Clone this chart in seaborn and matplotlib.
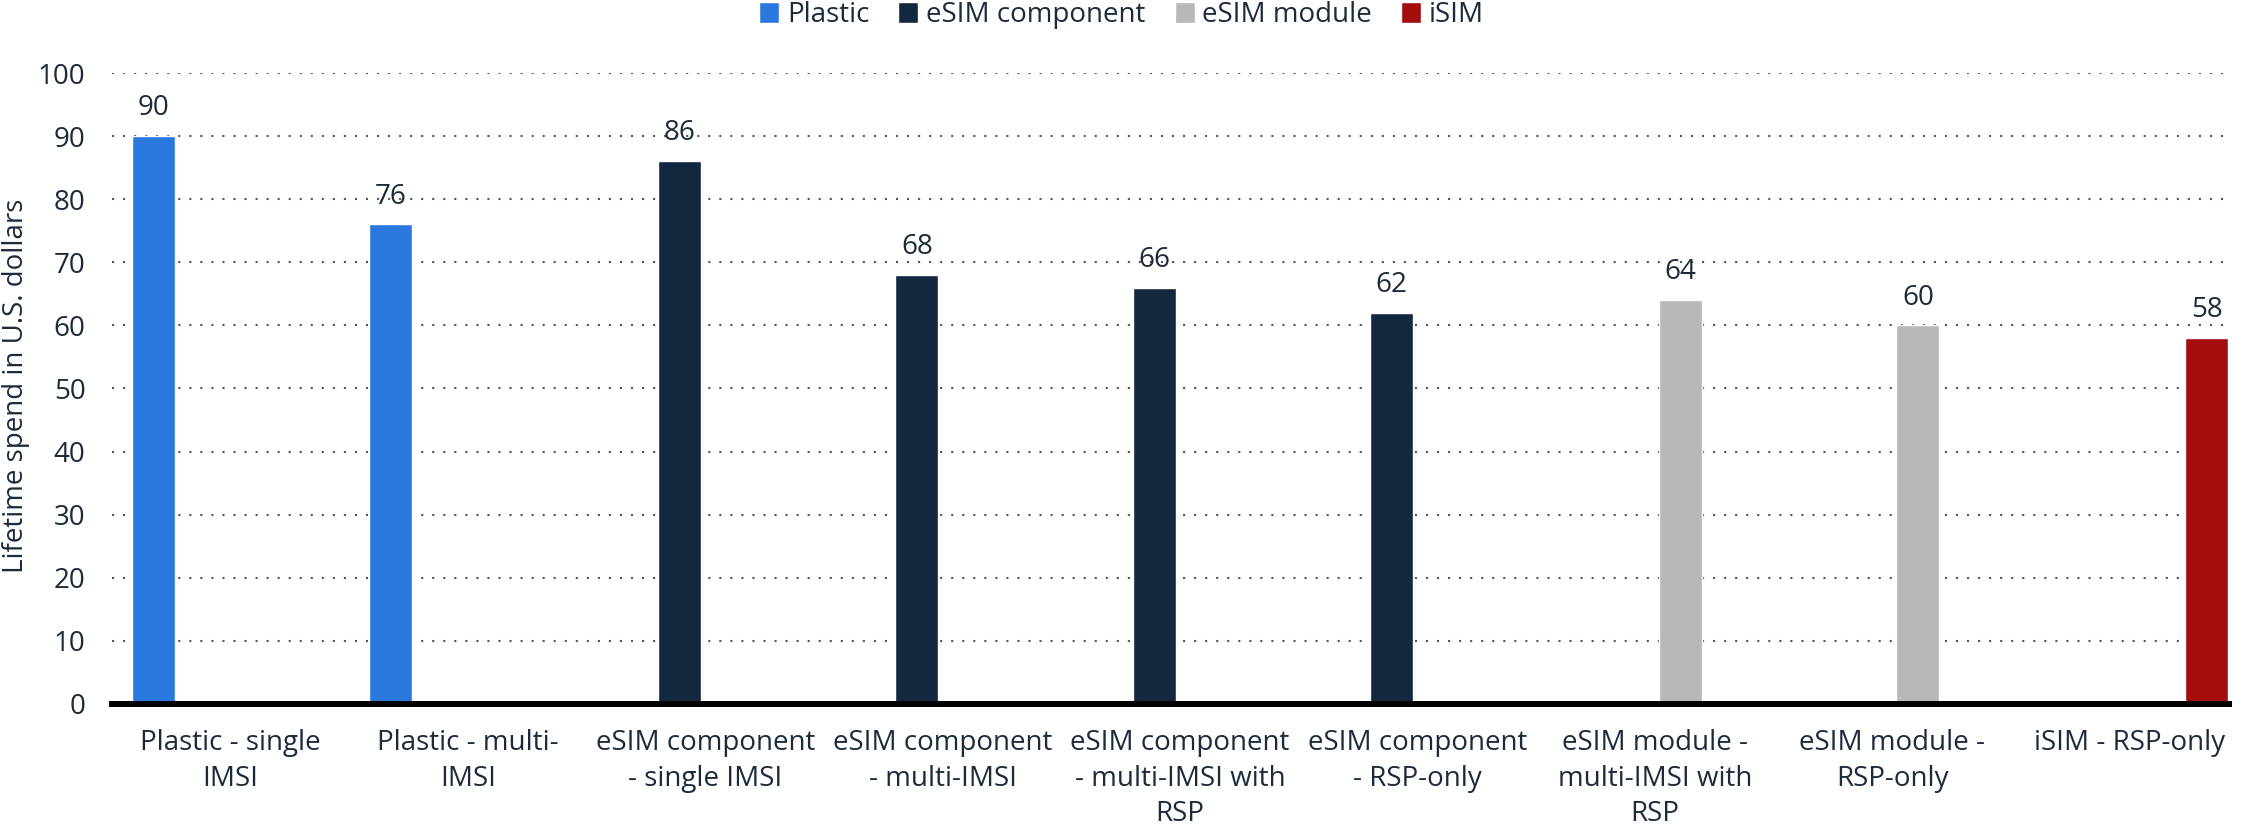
import matplotlib
matplotlib.use("Agg")
import matplotlib.pyplot as plt
import seaborn as sns
import pandas as pd

# Chart data
categories = [
    "Plastic - single IMSI",
    "Plastic - multi-IMSI",
    "eSIM component - single IMSI",
    "eSIM component - multi-IMSI",
    "eSIM component - multi-IMSI with RSP",
    "eSIM component - RSP-only",
    "eSIM module - multi-IMSI with RSP",
    "eSIM module - RSP-only",
    "iSIM - RSP-only",
]
groups = [
    "Plastic", "Plastic",
    "eSIM component", "eSIM component", "eSIM component", "eSIM component",
    "eSIM module", "eSIM module",
    "iSIM",
]
values = [90, 76, 86, 68, 66, 62, 64, 60, 58]

tick_labels = [
    "Plastic - single\nIMSI",
    "Plastic - multi-\nIMSI",
    "eSIM component\n- single IMSI",
    "eSIM component\n- multi-IMSI",
    "eSIM component\n- multi-IMSI with\nRSP",
    "eSIM component\n- RSP-only",
    "eSIM module -\nmulti-IMSI with\nRSP",
    "eSIM module -\nRSP-only",
    "iSIM - RSP-only",
]
hue_order = ["Plastic", "eSIM component", "eSIM module", "iSIM"]
palette = {
    "Plastic": "#2a77de",
    "eSIM component": "#13283f",
    "eSIM module": "#b8b8b8",
    "iSIM": "#a30d0d",
}
y_ticks = [0, 10, 20, 30, 40, 50, 60, 70, 80, 90, 100]
y_label = "Lifetime spend in U.S. dollars"

TEXT = "#1c2b3c"
FS = 20

df = pd.DataFrame({"category": categories, "group": groups, "value": values})

sns.set_theme(style="white")
plt.rcParams["font.family"] = ["Open Sans", "DejaVu Sans"]

fig = plt.figure(figsize=(22.43, 8.25), dpi=100)
ax = fig.add_axes([0.0499, 0.1467, 0.9439, 0.7648])

sns.barplot(
    data=df, x="category", y="value", hue="group",
    order=categories, hue_order=hue_order, palette=palette,
    dodge=True, width=0.87, gap=0.17, saturation=1,
    errorbar=None, ax=ax, legend=True,
)

# Value labels above each bar
for cont in ax.containers:
    ax.bar_label(cont, fmt="%g", padding=10, fontsize=FS, color=TEXT)

ax.set_ylim(0, 100)
ax.set_xlim(-0.5, 8.42)
ax.set_yticks(y_ticks)
ax.set_xticks(range(len(categories)))
ax.set_xticklabels(tick_labels, fontsize=FS, color=TEXT, linespacing=1.36)
ax.tick_params(axis="y", labelsize=FS, labelcolor=TEXT, length=0, pad=19)
ax.tick_params(axis="x", length=0, pad=18)

ax.set_xlabel("")
ax.set_ylabel(y_label, fontsize=FS, color=TEXT, va="center")
ax.yaxis.set_label_coords(-0.0451, 0.504)

# Dotted horizontal gridlines
ax.grid(axis="y", color="#555555", linestyle=(0, (1, 4.3)), linewidth=1.5)
ax.grid(axis="x", visible=False)
ax.set_axisbelow(True)
for side in ("left", "right", "top"):
    ax.spines[side].set_visible(False)
ax.spines["bottom"].set_color("black")
ax.spines["bottom"].set_linewidth(4.3)
ax.spines["bottom"].set_zorder(5)

handles, labels = ax.get_legend_handles_labels()
ax.get_legend().remove()
fig.legend(
    handles, labels, loc="center", bbox_to_anchor=(0.5, 0.982), ncol=4,
    frameon=False, fontsize=FS, labelcolor=TEXT,
    handlelength=0.72, handleheight=0.78, handletextpad=0.27, columnspacing=1.05,
)

fig.savefig("out.png", dpi=100)
